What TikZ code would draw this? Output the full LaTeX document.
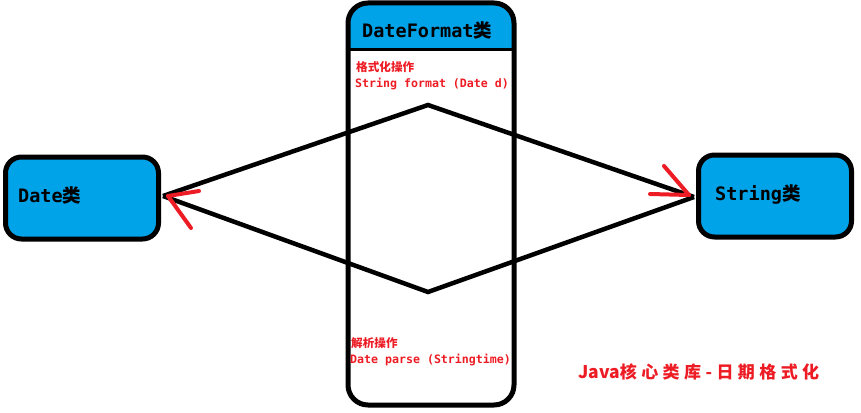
\documentclass[tikz,border=0pt]{standalone}
\usepackage{fontspec}
\setmonofont{DejaVu Sans Mono}
\newfontfamily\cjk{Noto Sans CJK SC}
\newfontfamily\titlefont{Noto Sans CJK SC}
\newfontfamily\titlespaced{Noto Sans CJK SC}[LetterSpace=26]
\definecolor{paintblue}{HTML}{00A2E8}
\definecolor{paintred}{HTML}{ED1C24}
\begin{document}
\begin{tikzpicture}[x=1pt,y=-1pt,
  classbox/.style={draw=black,line width=5pt,fill=paintblue,rounded corners=16pt,
    minimum width=153pt,minimum height=82pt,inner sep=0pt},
  headtext/.style={font=\ttfamily\bfseries\fontsize{18.5}{20}\selectfont,inner sep=0pt,anchor=west},
  optext/.style={font=\ttfamily\bfseries\fontsize{11.6}{12}\selectfont,text=paintred,inner sep=0pt,anchor=west},
  link/.style={draw=black,line width=4.5pt,line join=miter},
  redarm/.style={draw=paintred,line width=4pt,line cap=round}]
\useasboundingbox (0,0) rectangle (861,412);
% central DateFormat box
\fill[paintblue] (348,50) [rounded corners=20pt] -- (348,3) -- (514,3) [sharp corners] -- (514,50) -- cycle;
\draw[line width=3pt] (348,50) -- (514,50);
\node[draw=black,line width=5pt,rounded corners=20pt,minimum width=166pt,minimum height=402pt,inner sep=0pt] (fmt) at (431,204) {};
\node[headtext] (fmtlabel) at (362,30) {DateFormat{\cjk 类}};
\node[optext] (op1) at (356,67) {{\cjk 格式化操作}};
\node[optext] (op1b) at (355,84) {String format (Date d)};
\node[optext] (op2) at (351,343) {{\cjk 解析操作}};
\node[optext] (op2b) at (350,360) {Date parse (Stringtime)};
% side boxes
\node[classbox] (date) at (82,198) {};
\node[headtext] (datelabel) at (18,195) {Date{\cjk 类}};
\node[classbox] (string) at (775,196) {};
\node[headtext] (stringlabel) at (715,195) {String{\cjk 类}};
% connectors
\coordinate (ds) at (163,196);
\coordinate (ss) at (694,197);
\coordinate (top) at (428,105);
\coordinate (bot) at (428,292);
\path[link] (ds) -- (top) -- (ss);
\path[link] (ds) -- (bot) -- (ss);
% red arrowheads
\coordinate (tipS) at (689,195);
\coordinate (armS1) at (664,166);
\coordinate (armS2) at (650,194);
\path[redarm] (armS1) -- (tipS);
\path[redarm] (armS2) -- (tipS);
\coordinate (tipD) at (168,196);
\coordinate (armD1) at (199,191);
\coordinate (armD2) at (191,228);
\path[redarm] (armD1) -- (tipD);
\path[redarm] (armD2) -- (tipD);
% title
\node[font=\titlefont\bfseries\fontsize{17.5}{18}\selectfont,text=paintred,inner sep=0pt,anchor=west] (title) at (578,372) {Java{\titlespaced\bfseries\fontsize{17}{18}\selectfont 核心类库-日期格式化}};
\end{tikzpicture}
\end{document}
